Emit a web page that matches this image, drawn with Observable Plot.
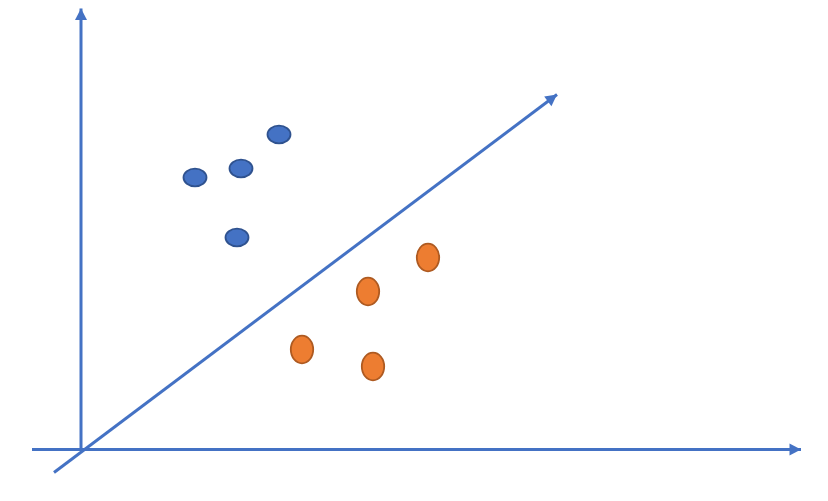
<!DOCTYPE html>
<html>
<head>
<meta charset="utf-8">
<script src="https://cdn.jsdelivr.net/npm/d3@7"></script>
<script src="https://cdn.jsdelivr.net/npm/@observablehq/plot@0.6"></script>
<style>
  html, body { margin: 0; padding: 0; background: #ffffff; }
  #chart svg { display: block; }
</style>
</head>
<body>
<div id="chart"></div>
<script>
// Data coordinates: origin at the intersection of the two drawn axes
const classA_x = [114, 160, 198, 156];
const classA_y = [272, 281, 315, 212];
const classB_x = [347, 287, 221, 292];
const classB_y = [192, 158, 100, 83];

// Axis arrows and separating line (start -> tip)
const arrowNames = ["xAxis", "yAxis", "boundary"];
const arrowX1 = [-49, 0, -27];
const arrowY1 = [0, 0, -23];
const arrowX2 = [720, 0, 476];
const arrowY2 = [0, 441, 355];

const classA = classA_x.map((x, i) => ({x, y: classA_y[i]}));
const classB = classB_x.map((x, i) => ({x, y: classB_y[i]}));
const arrows = arrowNames.map((name, i) => ({
  name, x1: arrowX1[i], y1: arrowY1[i], x2: arrowX2[i], y2: arrowY2[i],
  angle: Math.atan2(arrowX2[i] - arrowX1[i], arrowY2[i] - arrowY1[i]) * 180 / Math.PI
}));

function ellipseSymbol(rx, ry) {
  const kx = rx * 0.5523, ky = ry * 0.5523;
  return {
    draw(ctx) {
      ctx.moveTo(rx, 0);
      ctx.bezierCurveTo(rx, ky, kx, ry, 0, ry);
      ctx.bezierCurveTo(-kx, ry, -rx, ky, -rx, 0);
      ctx.bezierCurveTo(-rx, -ky, -kx, -ry, 0, -ry);
      ctx.bezierCurveTo(kx, -ry, rx, -ky, rx, 0);
      ctx.closePath();
    }
  };
}
const headSymbol = {
  draw(ctx) {
    ctx.moveTo(0, 0);
    ctx.lineTo(6, 11.5);
    ctx.lineTo(-6, 11.5);
    ctx.closePath();
  }
};

const lineColor = "#4472C4";

const chart = Plot.plot({
  width: 828,
  height: 501,
  margin: 0,
  x: {type: "linear", domain: [-80.5, 747.5], range: [0, 828], axis: null},
  y: {type: "linear", domain: [-52, 449], range: [501, 0], axis: null},
  style: {background: "#ffffff"},
  marks: [
    Plot.link(arrows, {x1: "x1", y1: "y1", x2: "x2", y2: "y2",
      stroke: lineColor, strokeWidth: 3, strokeLinecap: "butt"}),
    ...arrows.map(a => Plot.dot([a], {x: "x2", y: "y2", symbol: headSymbol,
      fill: lineColor, stroke: "none", rotate: a.angle})),
    Plot.dot(classA, {x: "x", y: "y", symbol: ellipseSymbol(11.5, 8.8),
      fill: "#4472C4", stroke: "#2F528F", strokeWidth: 1.8}),
    Plot.dot(classB, {x: "x", y: "y", symbol: ellipseSymbol(11.2, 13.8),
      fill: "#ED7D31", stroke: "#AE5A21", strokeWidth: 1.8})
  ]
});
document.getElementById("chart").appendChild(chart);
</script>
</body>
</html>
